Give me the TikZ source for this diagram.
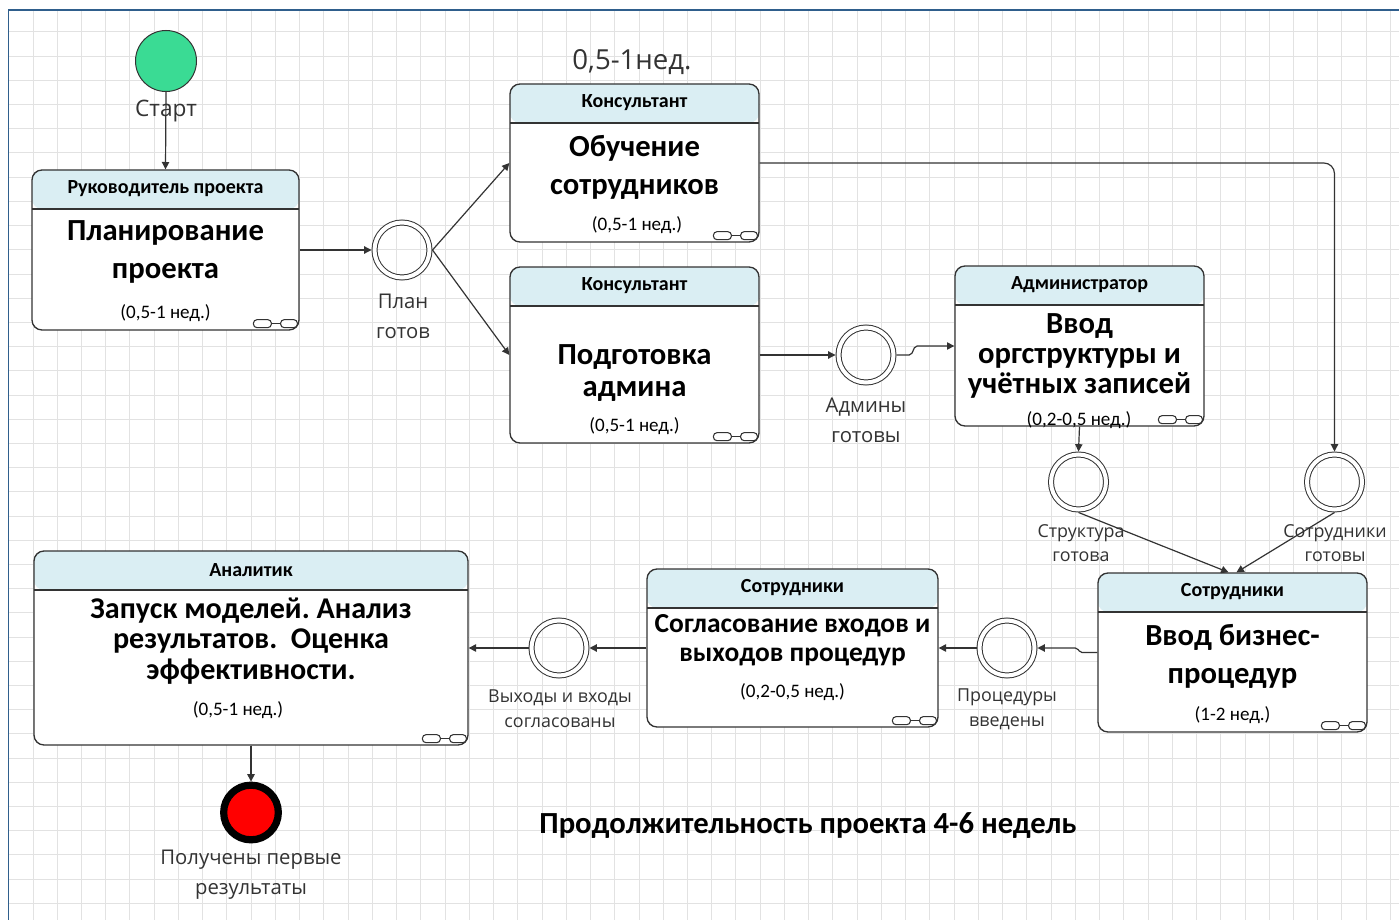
\documentclass[tikz,border=0pt]{standalone}
\usepackage{fontspec}
\setmainfont{Carlito}
\newfontfamily\segoe{Open Sans}
\usetikzlibrary{arrows.meta}
\definecolor{hdrblue}{HTML}{DAEEF3}
\definecolor{startgreen}{HTML}{3ADB94}
\definecolor{gridgray}{HTML}{E2E2E2}
\definecolor{framebl}{HTML}{2F5E8C}
\definecolor{linegray}{HTML}{333333}
\frenchspacing
\begin{document}
\begin{tikzpicture}[x=0.75pt,y=-0.75pt]
\tikzstyle{act} = [draw=linegray, line width=1pt, rounded corners=7.5pt, fill=white, inner sep=0pt,
  path picture={\fill[hdrblue] (path picture bounding box.north west) rectangle ([yshift=-29.25pt]path picture bounding box.north east);
    \draw[linegray, line width=1pt] ([yshift=-29.25pt]path picture bounding box.north west) -- ([yshift=-29.25pt]path picture bounding box.north east);}];
\tikzstyle{hdtext} = [font=\bfseries\fontsize{15}{17}\selectfont];
\tikzstyle{body} = [align=center, font=\bfseries\fontsize{23}{28.5}\selectfont];
\tikzstyle{dur} = [font=\fontsize{14.3}{16}\selectfont];
\tikzstyle{event} = [circle, draw=linegray, line width=0.75pt, double, double distance=3pt, minimum size=41.25pt, inner sep=0pt, outer sep=2.25pt];
\tikzstyle{lbl} = [align=center, text=black!80, font=\segoe\fontsize{15.2}{22.5}\selectfont];
\tikzstyle{slbl} = [align=center, text=black!80, font=\segoe\fontsize{13.4}{18.5}\selectfont];
\tikzstyle{arr} = [-{Triangle[length=5.5pt,width=5.5pt]}, linegray, line width=0.9pt];

\useasboundingbox (0,0) rectangle (1399,920);
\fill[white] (0,0) rectangle (1399,920);
\foreach \i in {0,...,56}
	\draw[gridgray, line width=0.75pt] (33+24.24*\i,10) -- (33+24.24*\i,920);
\foreach \j in {0,...,36}
	\draw[gridgray, line width=0.75pt] (9,32+24.2*\j) -- (1399,32+24.2*\j);
\draw[framebl, line width=1.4pt] (8.5,920) -- (8.5,9.8) -- (1399,9.8);

\foreach \n/\x/\y/\w/\h/\t in {plan/165.5/250/267/160/{Руководитель проекта}, train/634.5/163/249/158/Консультант, adm/634.5/355/249/176/Консультант, org/1079.5/346/249/160/Администратор, biz/1232.5/652.5/269/159/Сотрудники, agree/792.5/648/291/158/Сотрудники, run/251/648/434/194/Аналитик}
{
	\node[act, minimum width=\w*0.75pt, minimum height=\h*0.75pt] (\n) at (\x,\y) {};
	\node[hdtext] (\n-h) at ([yshift=-14.6pt]\n.north) {\t};
}

\foreach \n in {plan,train,adm,org,biz,agree,run}
{
	\draw[linegray, line width=0.8pt] ([shift={(-21.2pt,5.25pt)}]\n.south east) -- ([shift={(-14.3pt,5.25pt)}]\n.south east);
	\draw[linegray, line width=0.8pt, fill=white, rounded corners=2.7pt] ([shift={(-14.3pt,2.25pt)}]\n.south east) rectangle ([shift={(-1.7pt,8.25pt)}]\n.south east);
	\draw[linegray, line width=0.8pt, fill=white, rounded corners=2.7pt] ([shift={(-34.7pt,2.25pt)}]\n.south east) rectangle ([shift={(-21.2pt,8.25pt)}]\n.south east);
}

\node[body] (plan-b) at (165.5,252) {Планирование\\проекта};
\node[body] (train-b) at (634.5,167) {Обучение\\сотрудников};
\node[body, font=\bfseries\fontsize{23}{24}\selectfont] (adm-b) at (634.5,373) {Подготовка\\админа};
\node[body, font=\bfseries\fontsize{23}{22.5}\selectfont] (org-b) at (1079.5,356) {Ввод\\оргструктуры и\\учётных записей};
\node[body] (biz-b) at (1232.5,656) {Ввод бизнес-\\процедур};
\node[body, font=\bfseries\fontsize{20.6}{21.75}\selectfont] (agree-b) at (792.5,640) {Согласование входов и\\выходов процедур};
\node[body, font=\bfseries\fontsize{22.6}{23}\selectfont] (run-b) at (251,641) {Запуск моделей. Анализ\\результатов.~ Оценка\\эффективности.};

\node[dur] (plan-d) at (165.5,313) {(0,5-1 нед.)};
\node[dur] (train-d) at (637,225) {(0,5-1 нед.)};
\node[dur] (adm-d) at (634.5,426) {(0,5-1 нед.)};
\node[dur] (org-d) at (1079,420) {(0,2-0,5 нед.)};
\node[dur] (biz-d) at (1232.5,715) {(1-2 нед.)};
\node[dur] (agree-d) at (792.5,692) {(0,2-0,5 нед.)};
\node[dur] (run-d) at (238,710) {(0,5-1 нед.)};

\node[circle, draw=linegray, line width=0.75pt, fill=startgreen, minimum size=45.75pt, inner sep=0pt] (start) at (166,61) {};
\node[circle, draw=black, line width=5.4pt, fill=red, minimum size=41pt, inner sep=0pt] (finish) at (251,812.5) {};
\node[event] (ev1) at (402,250) {};
\node[event] (ev2) at (866,355) {};
\node[event] (ev3) at (1078.5,482) {};
\node[event] (ev4) at (1334.5,482) {};
\node[event] (ev5) at (1007,648) {};
\node[event] (ev6) at (559,648) {};

\node[lbl, font=\segoe\fontsize{17}{20}\selectfont] (start-l) at (166,111) {Старт};
\node[lbl, font=\segoe\fontsize{20.7}{23}\selectfont] (time-l) at (632,62) {0,5-1нед.};
\node[lbl] (ev1-l) at (403,316) {План\\готов};
\node[lbl] (ev2-l) at (866,420) {Админы\\готовы};
\node[slbl] (ev3-l) at (1081,543) {Структура\\готова};
\node[slbl] (ev4-l) at (1335,543) {Сотрудники\\готовы};
\node[slbl] (ev5-l) at (1007,709) {Процедуры\\введены};
\node[slbl] (ev6-l) at (560,709) {Выходы и входы\\согласованы};
\node[lbl] (finish-l) at (251,875) {Получены первые\\результаты};
\node[font=\bfseries\fontsize{23}{26}\selectfont] (total) at (808,825) {Продолжительность проекта 4-6 недель};

\draw[arr] (start.south) -- (plan.north);
\draw[arr] (plan.east) -- (ev1.west);
\draw[arr] (ev1.east) -- (train.west);
\draw[arr] (ev1.east) -- (adm.west);
\draw[arr] (adm.east) -- (ev2.west);
\draw[arr, rounded corners=1.5pt] (ev2.east) -- ++(11pt,0) -- ++(3pt,6.75pt) -- (org.west);
\draw[arr] (org.south) -- (ev3.north);
\draw[arr, rounded corners=8pt] (train.east) -| (ev4.north);
\draw[arr] (ev3.south) -- ([xshift=-3pt]biz.north);
\draw[arr] (ev4.south) -- ([xshift=3pt]biz.north);
\draw[arr, rounded corners=1.5pt] (biz.west) -- ++(-13pt,0) -- ++(-2pt,3.375pt) -- (ev5.east);
\draw[arr] (ev5.west) -- (agree.east);
\draw[arr] (agree.west) -- (ev6.east);
\draw[arr] (ev6.west) -- (run.east);
\draw[arr] (run.south) -- (finish.north);
\end{tikzpicture}
\end{document}
